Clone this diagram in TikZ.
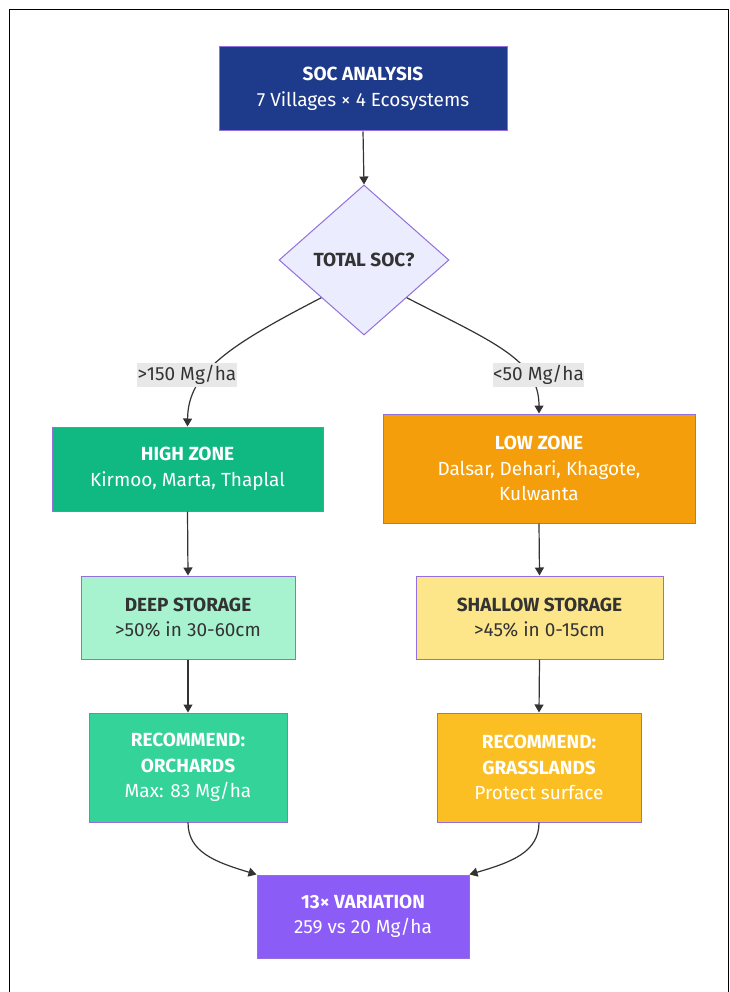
\documentclass[tikz,border=0pt]{standalone}
\usepackage{fontspec}
\setmainfont{Fira Sans}
\usetikzlibrary{shapes.geometric,arrows.meta}
\definecolor{bordc}{HTML}{9370DB}
\definecolor{linec}{HTML}{333333}
\definecolor{txtd}{HTML}{333333}
\definecolor{cSoc}{HTML}{1E3A8A}
\definecolor{cDia}{HTML}{ECECFF}
\definecolor{cHigh}{HTML}{10B981}
\definecolor{cLow}{HTML}{F59E0B}
\definecolor{cDeep}{HTML}{A7F3D0}
\definecolor{cShal}{HTML}{FDE68A}
\definecolor{cOrch}{HTML}{34D399}
\definecolor{cGras}{HTML}{FBBF24}
\definecolor{cVar}{HTML}{8B5CF6}
\definecolor{cLab}{HTML}{E8E8E8}
\tikzset{
  box/.style={draw=bordc, line width=1pt, rectangle, align=center, inner sep=0pt,
    font=\fontsize{19}{25.5}\selectfont},
  wtxt/.style={text=white},
  dtxt/.style={text=txtd},
  conn/.style={draw=linec, line width=1.2pt, -{Triangle[length=8pt,width=9pt]}},
  elab/.style={fill=cLab, text=txtd, inner sep=0pt, minimum width=100pt, minimum height=24pt,
    font=\fontsize{19}{22}\selectfont}
}
\begin{document}
\begin{tikzpicture}[x=1pt,y=-1pt]
\useasboundingbox (0,0) rectangle (729,992);
\draw[line width=1.2pt,black] (9.5,992) -- (9.5,9.5) -- (729,9.5);
\draw[line width=1.2pt,black] (728.4,9.5) -- (728.4,992);

\node[box, wtxt, fill=cSoc, minimum width=288pt, minimum height=84pt] (soc) at (363,89)
  {\textbf{SOC ANALYSIS}\\7 Villages × 4 Ecosystems};
\node[diamond, draw=bordc, line width=1pt, fill=cDia, minimum width=170pt, minimum height=150pt,
  inner sep=0pt, text=txtd, font=\fontsize{19}{22}\selectfont\bfseries] (dia) at (364,260) {TOTAL SOC?};

\node[box, wtxt, fill=cHigh, minimum width=271pt, minimum height=84pt] (high) at (187.5,469)
  {\textbf{HIGH ZONE}\\Kirmoo, Marta, Thaplal};
\node[box, wtxt, fill=cLow, minimum width=312pt, minimum height=109pt] (low) at (539,468.5)
  {\textbf{LOW ZONE}\\Dalsar, Dehari, Khagote,\\Kulwanta};

\node[box, dtxt, fill=cDeep, minimum width=214pt, minimum height=83pt] (deep) at (188,617.5)
  {\textbf{DEEP STORAGE}\\>50\% in 30-60cm};
\node[box, dtxt, fill=cShal, minimum width=247pt, minimum height=83pt] (shal) at (539.5,617.5)
  {\textbf{SHALLOW STORAGE}\\>45\% in 0-15cm};

\node[box, wtxt, fill=cOrch, minimum width=198pt, minimum height=109pt] (orch) at (188,767.5)
  {\textbf{RECOMMEND:}\\\textbf{ORCHARDS}\\Max: 83 Mg/ha};
\node[box, wtxt, fill=cGras, minimum width=204pt, minimum height=109pt] (gras) at (539,767.5)
  {\textbf{RECOMMEND:}\\\textbf{GRASSLANDS}\\Protect surface};

\node[box, wtxt, fill=cVar, minimum width=212pt, minimum height=83pt] (var) at (363,916.5)
  {\textbf{13× VARIATION}\\259 vs 20 Mg/ha};

\draw[conn] (soc.south) -- (dia.north);
\draw[conn] (dia.south west) .. controls (230,345) and (188,372) .. (high.north);
\draw[conn] (dia.south east) .. controls (495,343) and (539,360) .. (low.north);
\node[elab] (lab1) at (187,375) {>150 Mg/ha};
\node[elab, minimum width=89pt] (lab2) at (538.5,375) {<50 Mg/ha};

\draw[conn] (high.south) -- (deep.north);
\draw[conn] (low.south) -- (shal.north);
\draw[conn] (deep.south) -- (orch.north);
\draw[conn] (shal.south) -- (gras.north);
\draw[conn] (orch.south) .. controls (188,852) and (215,862) .. (var.north west);
\draw[conn] (gras.south) .. controls (539,852) and (512,862) .. (var.north east);
\end{tikzpicture}
\end{document}
